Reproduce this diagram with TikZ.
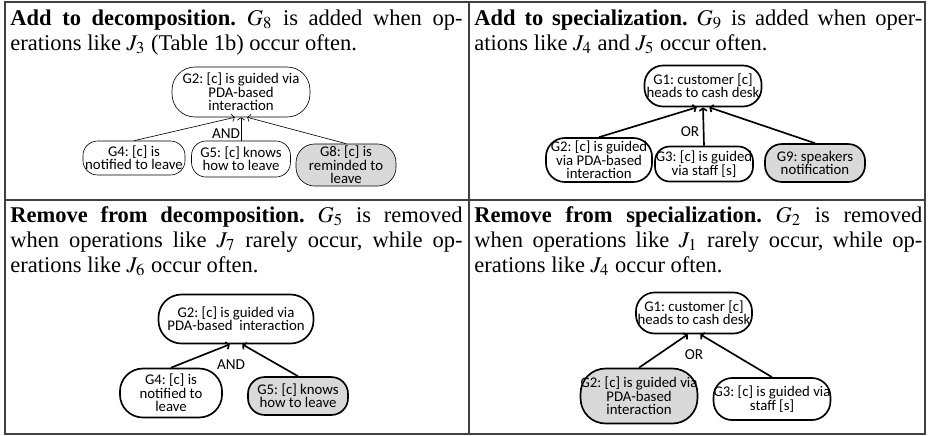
\documentclass[tikz,border=0pt]{standalone}
\usepackage{mathptmx}
\usepackage[no-math]{fontspec}
\setmainfont{Liberation Serif}
\newfontfamily\goalfont{Carlito}
\usetikzlibrary{arrows.meta}
\frenchspacing

\tikzset{
  goal/.style={draw, rounded corners=7pt, align=center, inner sep=0pt,
    font=\goalfont\fontsize{7.1}{6.4}\selectfont},
  goalnew/.style={goal, fill=black!15},
  oplabel/.style={inner sep=0pt, font=\goalfont\fontsize{7.3}{7}\selectfont},
  refine/.style={-{Straight Barb[length=1.2pt,width=3.6pt]}},
  celltext/.style={anchor=base west, inner sep=0pt, align=justify, font=\fontsize{10.8}{12}\selectfont},
}

\begin{document}
\begin{tikzpicture}[x=0.48pt,y=-0.48pt]
		\useasboundingbox (0,0) rectangle (928,435);
		% 表の枠
		\draw[black!75,line width=0.6pt] (5,2) rectangle (925,434);
		\draw[black!75,line width=0.6pt] (469,2)--(469,434);
		\draw[black!75,line width=0.6pt] (5,200)--(925,200);
		% 説明文
		\node[celltext,text width=217pt] (addDec) at (10,25)
			{\textbf{Add to decomposition.} $G_8$ is added when op-\linebreak erations like $J_3$ (Table 1b) occur often.};
		\node[celltext,text width=215pt] (addSpec) at (474,25)
			{\textbf{Add to specialization.} $G_9$ is added when oper-\linebreak ations like $J_4$ and $J_5$ occur often.};
		\node[celltext,text width=217pt] (remDec) at (10,222)
			{\textbf{Remove from decomposition.} $G_5$ is removed\linebreak when operations like $J_7$ rarely occur, while op-\linebreak erations like $J_6$ occur often.};
		\node[celltext,text width=215pt] (remSpec) at (474,222)
			{\textbf{Remove from specialization.} $G_2$ is removed\linebreak when operations like $J_1$ rarely occur, while op-\linebreak erations like $J_4$ occur often.};
		% 左上: 分解への追加
		\begin{scope}[line width=0.3pt]
		\node[goal,rounded corners=11pt,minimum width=66.2pt,minimum height=24pt] (tlG2) at (241,92) {G2: [c] is guided via\\PDA-based\\interaction};
		\node[goal,minimum width=49pt,minimum height=16.3pt] (tlG4) at (134,158) {G4: [c] is\\notified to leave};
		\node[goal,minimum width=47.5pt,minimum height=17.3pt] (tlG5) at (241,159) {G5: [c] knows\\how to leave};
		\node[goalnew,rounded corners=9pt,minimum width=48pt,minimum height=20.2pt] (tlG8) at (346,165) {G8: [c] is\\reminded to\\leave};
		\node[oplabel] (tlAnd) at (226,134) {AND};
		\draw[refine] (tlG4.north)--([xshift=-3pt]tlG2.south);
		\draw[refine] (tlG5.north)--(tlG2.south);
		\draw[refine] (tlG8.north)--([xshift=3pt]tlG2.south);
		\end{scope}
		% 右上: 特化への追加
		\begin{scope}[line width=0.8pt]
		\node[goal,rounded corners=9pt,minimum width=56.2pt,minimum height=19.7pt] (trG1) at (703,86) {G1: customer [c]\\heads to cash desk};
		\node[goal,rounded corners=9pt,minimum width=50.9pt,minimum height=21.1pt] (trG2) at (599,160) {G2: [c] is guided\\via PDA-based\\interaction};
		\node[goal,minimum width=47pt,minimum height=16.8pt] (trG3) at (704,164) {G3: [c] is guided\\via staff [s]};
		\node[goalnew,rounded corners=8pt,minimum width=48pt,minimum height=18.2pt] (trG9) at (815,163) {G9: speakers\\notification};
		\node[oplabel] (trOr) at (690,132) {OR};
		\draw[refine] (trG2.north)--([xshift=-3pt]trG1.south);
		\draw[refine] (trG3.north)--(trG1.south);
		\draw[refine] (trG9.north)--([xshift=3pt]trG1.south);
		\end{scope}
		% 左下: 分解からの削除
		\begin{scope}[line width=0.8pt]
		\node[goal,rounded corners=11pt,minimum width=74.4pt,minimum height=23.5pt] (blG2) at (236,319) {G2: [c] is guided via\\PDA-based\ \ interaction};
		\node[goal,rounded corners=11pt,minimum width=49pt,minimum height=23.5pt] (blG4) at (171,393) {G4: [c] is\\notified to\\leave};
		\node[goalnew,rounded corners=8pt,minimum width=48pt,minimum height=18.2pt] (blG5) at (298,396) {G5: [c] knows\\how to leave};
		\node[oplabel] (blAnd) at (231,365) {AND};
		\draw[refine] (blG4.north)--([xshift=-3pt]blG2.south);
		\draw[refine] (blG5.north)--([xshift=3pt]blG2.south);
		\end{scope}
		% 右下: 特化からの削除
		\begin{scope}[line width=0.8pt]
		\node[goal,rounded corners=9pt,minimum width=55.7pt,minimum height=19.7pt] (brG1) at (694,313) {G1: customer [c]\\heads to cash desk};
		\node[goalnew,rounded corners=12pt,minimum width=55.7pt,minimum height=26.4pt] (brG2) at (639,396) {G2: [c] is guided via\\PDA-based\\interaction};
		\node[goal,rounded corners=9pt,minimum width=55.7pt,minimum height=20.2pt] (brG3) at (772,399) {G3: [c] is guided via\\staff [s]};
		\node[oplabel] (brOr) at (694,355) {OR};
		\draw[refine] (brG2.north)--([xshift=-3pt]brG1.south);
		\draw[refine] (brG3.north)--([xshift=3pt]brG1.south);
		\end{scope}
	\end{tikzpicture}
\end{document}
